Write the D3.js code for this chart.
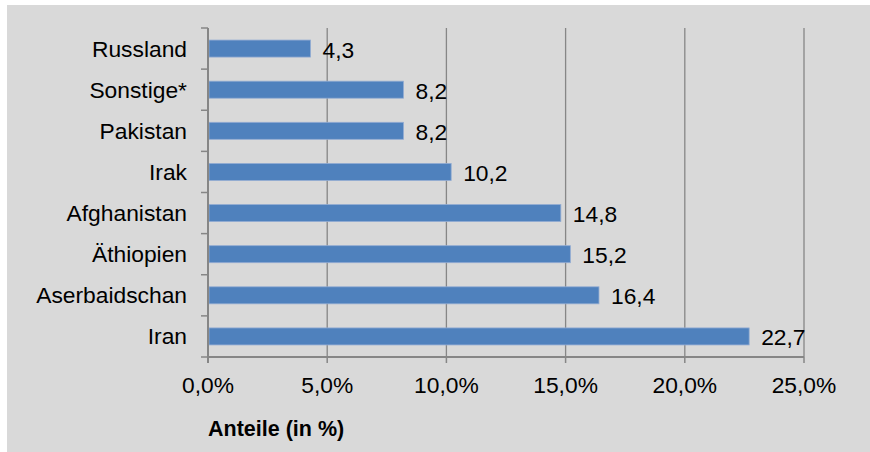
<!DOCTYPE html>
<html>
<head>
<meta charset="utf-8">
<script src="https://cdn.jsdelivr.net/npm/d3@7"></script>
<style>
  html, body { margin: 0; padding: 0; background: #ffffff; }
  text { font-family: "Liberation Sans", Arial, sans-serif; fill: #000; }
</style>
</head>
<body>
<div id="grafica"></div>
<script>
// Daten (von oben nach unten)
var laender = ["Russland", "Sonstige*", "Pakistan", "Irak", "Afghanistan", "Äthiopien", "Aserbaidschan", "Iran"];
var anteile = [4.3, 8.2, 8.2, 10.2, 14.8, 15.2, 16.4, 22.7];
var xTicks = [0, 5, 10, 15, 20, 25];
var achsenTitel = "Anteile (in %)";

var data = laender.map(function (d, i) { return { land: d, wert: anteile[i] }; });

var W = 870, H = 452;
var plot = { left: 208, right: 804, top: 28, bottom: 357 };

var de = d3.formatLocale({ decimal: ",", thousands: ".", grouping: [3], currency: ["", " €"] });
var f1 = de.format(".1f");

var svg = d3.select("#grafica")
  .append("svg")
  .attr("width", W)
  .attr("height", H);

// Hintergrund
svg.append("rect")
  .attr("x", 7).attr("y", 5)
  .attr("width", W - 7).attr("height", H - 5)
  .style("fill", "#d9d9d9");

var x = d3.scaleLinear()
  .domain([0, 25])
  .range([plot.left, plot.right]);

// Zellen fuer die Striche der y-Achse
var yCell = d3.scaleBand()
  .domain(laender)
  .range([plot.top, plot.bottom]);

// Balken-Skala: gleicher Schritt, Balken mittig
var y = d3.scaleBand()
  .domain(laender)
  .range([plot.top, plot.bottom])
  .paddingInner(0.586)
  .paddingOuter(0.293);

var gridColor = "#868686";

// Gitterlinien
svg.append("g")
  .selectAll("line")
  .data(xTicks.slice(1))
  .enter()
  .append("line")
  .attr("x1", function (d) { return x(d); })
  .attr("x2", function (d) { return x(d); })
  .attr("y1", plot.top)
  .attr("y2", plot.bottom)
  .style("stroke", gridColor)
  .style("stroke-width", 1.3);

// Balken
svg.append("g")
  .selectAll("rect")
  .data(data)
  .enter()
  .append("rect")
  .attr("x", x(0) + 1)
  .attr("y", function (d) { return y(d.land); })
  .attr("width", function (d) { return x(d.wert) - x(0) - 1; })
  .attr("height", y.bandwidth())
  .style("fill", "#4f81bd")
  .style("stroke", "#93acd3")
  .style("stroke-width", 0.8);

// y-Achse
svg.append("line")
  .attr("x1", plot.left).attr("x2", plot.left)
  .attr("y1", plot.top).attr("y2", plot.bottom + 6)
  .style("stroke", gridColor)
  .style("stroke-width", 2);

var yTickPos = laender.map(function (d) { return yCell(d); }).concat([plot.bottom]);
svg.append("g")
  .selectAll("line")
  .data(yTickPos)
  .enter()
  .append("line")
  .attr("x1", plot.left - 7)
  .attr("x2", plot.left)
  .attr("y1", function (d) { return d; })
  .attr("y2", function (d) { return d; })
  .style("stroke", gridColor)
  .style("stroke-width", 1.5);

// x-Achse
svg.append("line")
  .attr("x1", plot.left).attr("x2", plot.right)
  .attr("y1", plot.bottom).attr("y2", plot.bottom)
  .style("stroke", gridColor)
  .style("stroke-width", 2);

svg.append("g")
  .selectAll("line")
  .data(xTicks)
  .enter()
  .append("line")
  .attr("x1", function (d) { return x(d); })
  .attr("x2", function (d) { return x(d); })
  .attr("y1", plot.bottom)
  .attr("y2", plot.bottom + 6)
  .style("stroke", gridColor)
  .style("stroke-width", 1.5);

// Beschriftung x-Achse
svg.append("g")
  .selectAll("text")
  .data(xTicks)
  .enter()
  .append("text")
  .attr("x", function (d) { return x(d); })
  .attr("y", 393)
  .attr("text-anchor", "middle")
  .style("font-size", "22.8px")
  .text(function (d) { return f1(d) + "%"; });

// Laendernamen
svg.append("g")
  .selectAll("text")
  .data(laender)
  .enter()
  .append("text")
  .attr("x", 187)
  .attr("y", function (d) { return y(d) + y.bandwidth() / 2 + 8; })
  .attr("text-anchor", "end")
  .style("font-size", "22.8px")
  .text(function (d) { return d; });

// Werte an den Balken
svg.append("g")
  .selectAll("text")
  .data(data)
  .enter()
  .append("text")
  .attr("x", function (d) { return x(d.wert) + 12; })
  .attr("y", function (d) { return y(d.land) + y.bandwidth() / 2 + 9; })
  .style("font-size", "22.8px")
  .text(function (d) { return f1(d.wert); });

// Achsentitel
svg.append("text")
  .attr("x", 208)
  .attr("y", 436)
  .style("font-size", "21.5px")
  .style("font-weight", "bold")
  .text(achsenTitel);
</script>
</body>
</html>
